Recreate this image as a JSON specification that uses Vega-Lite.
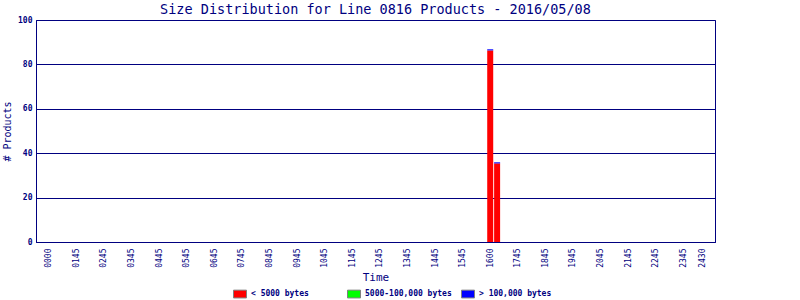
{
  "$schema": "https://vega.github.io/schema/vega-lite/v6.json",
  "autosize": {"type": "none"},
  "width": 679,
  "height": 222,
  "padding": {"left": 36, "top": 20, "right": 85, "bottom": 58},
  "background": "#ffffff",
  "title": {
    "text": "Size Distribution for Line 0816 Products - 2016/05/08",
    "font": "DejaVu Sans Mono",
    "fontSize": 13.5,
    "fontWeight": "normal",
    "color": "#000080",
    "anchor": "middle",
    "offset": 3,
    "dy": 3
  },
  "config": {
    "view": {"stroke": "#000080", "strokeWidth": 1},
    "axis": {
      "domainColor": "#000080",
      "gridColor": "#000080",
      "gridOpacity": 1,
      "labelColor": "#000080",
      "titleColor": "#000080",
      "labelFont": "DejaVu Sans Mono",
      "titleFont": "DejaVu Sans Mono",
      "titleFontWeight": "normal",
      "ticks": false
    },
    "legend": {
      "labelFont": "DejaVu Sans Mono",
      "labelColor": "#000080"
    }
  },
  "data": {
    "values": [
      {"minute": 960, "size": "< 5000 bytes", "products": 86.3},
      {"minute": 960, "size": "> 100,000 bytes", "products": 0.5},
      {"minute": 975, "size": "< 5000 bytes", "products": 35.4},
      {"minute": 975, "size": "> 100,000 bytes", "products": 0.5}
    ]
  },
  "mark": {"type": "bar", "width": 6},
  "encoding": {
    "x": {
      "field": "minute",
      "type": "quantitative",
      "scale": {"domain": [-17, 1438], "nice": false, "zero": false},
      "axis": {
        "title": "Time",
        "titleFontSize": 11,
        "titlePadding": 4,
        "grid": false,
        "values": [0, 60, 120, 180, 240, 300, 360, 420, 480, 540, 600, 660, 720, 780, 840, 900, 960, 1020, 1080, 1140, 1200, 1260, 1320, 1380, 1421],
        "labelExpr": "datum.value == 0 ? '0000' : datum.value == 960 ? '1600' : datum.value > 1400 ? '2430' : pad(toString(floor(datum.value / 60)), 2, '0', 'left') + '45'",
        "labelAngle": -90,
        "labelFontSize": 8,
        "labelPadding": 6,
        "labelOverlap": false,
        "labelBound": false,
        "labelFlush": false
      }
    },
    "y": {
      "field": "products",
      "type": "quantitative",
      "stack": "zero",
      "scale": {"domain": [0, 100], "nice": false},
      "axis": {
        "title": "# Products",
        "titleFontSize": 10,
        "titlePadding": 5,
        "values": [0, 20, 40, 60, 80, 100],
        "grid": true,
        "labelFontSize": 8,
        "labelFontWeight": "bold",
        "labelPadding": 4
      }
    },
    "color": {
      "field": "size",
      "type": "nominal",
      "scale": {
        "domain": ["< 5000 bytes", "5000-100,000 bytes", "> 100,000 bytes"],
        "range": ["#ff0000", "#00ff00", "#0000ff"]
      },
      "legend": {
        "title": null,
        "orient": "none",
        "legendX": 197,
        "legendY": 267,
        "direction": "horizontal",
        "columns": 3,
        "gridAlign": "all",
        "columnPadding": 7,
        "symbolType": "M-1,-0.6H1V0.6H-1Z",
        "symbolSize": 169,
        "symbolStrokeColor": "#808080",
        "symbolStrokeWidth": 1,
        "symbolOpacity": 1,
        "labelFontSize": 8,
        "labelFontWeight": "bold",
        "labelOffset": 4
      }
    },
    "order": {"field": "size", "sort": "ascending"}
  }
}
